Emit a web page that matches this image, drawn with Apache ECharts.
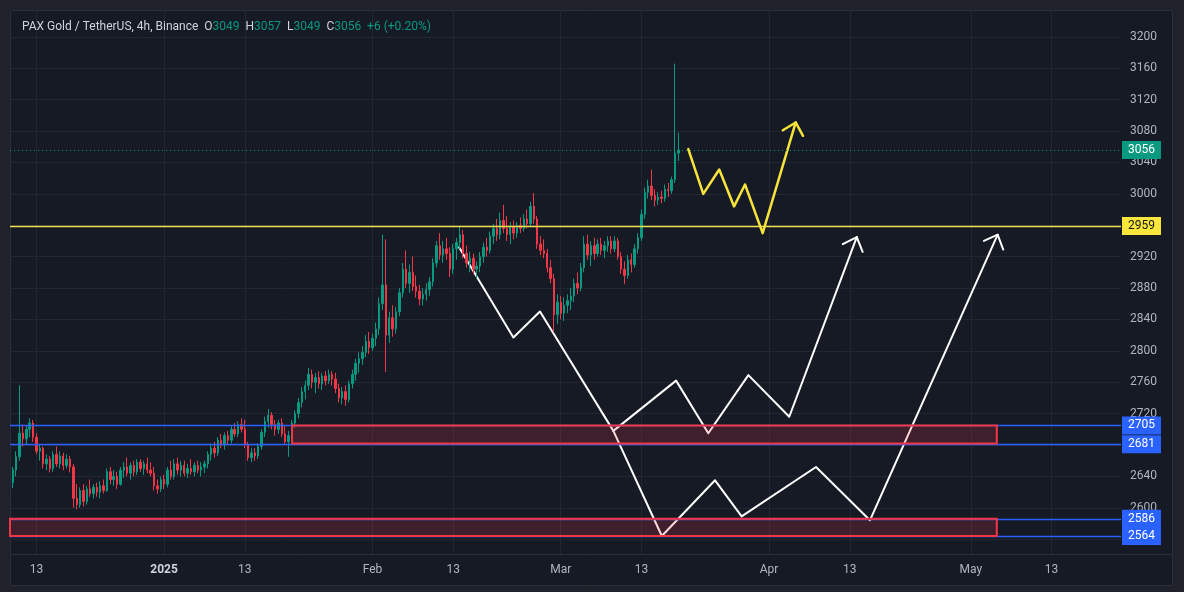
<!DOCTYPE html>
<html>
<head>
<meta charset="utf-8">
<title>PAX Gold / TetherUS</title>
<script src="https://cdn.jsdelivr.net/npm/echarts@6.0.0/dist/echarts.min.js"></script>
<style>
html,body{margin:0;padding:0;background:#1f222b;overflow:hidden;}
#chart{width:1184px;height:592px;}
</style>
</head>
<body>
<div id="chart"></div>
<script>
// ---------------- data ----------------
const symbolName = 'PAX Gold / TetherUS, 4h, Binance';
const lastBar = [3049, 3057, 3049, 3056];          // O H L C of the last 4h bar
const lastChange = '+6 (+0.20%)';

const firstCandleTime = '2024-12-09T12:00';          // 12h candles
const candleStepDays = 0.5;

const opens = [
2632,2648,2665,2695,2688,2700,2708,2690,2672,2676,
2656,2662,2650,2668,2656,2666,2654,2662,2652,2612,
2604,2622,2608,2624,2618,2626,2620,2628,2622,2646,
2636,2640,2630,2648,2652,2644,2654,2646,2658,2650,
2656,2648,2644,2628,2624,2636,2630,2648,2640,2656,
2648,2654,2644,2650,2646,2654,2648,2652,2656,2668,
2676,2670,2686,2680,2692,2686,2700,2694,2706,2700,
2680,2664,2670,2666,2678,2696,2710,2718,2706,2700,
2708,2694,2684,2692,2708,2720,2734,2748,2756,2770,
2760,2766,2758,2768,2762,2770,2764,2752,2740,2748,
2738,2758,2770,2784,2790,2798,2812,2804,2816,2828,
2860,2884,2820,2842,2828,2850,2874,2904,2886,2900,
2882,2876,2866,2872,2878,2888,2912,2934,2922,2930,
2924,2904,2930,2938,2948,2924,2912,2918,2904,2908,
2920,2932,2928,2946,2956,2948,2966,2956,2948,2958,
2950,2960,2956,2968,2962,2984,2968,2936,2928,2924,
2906,2892,2846,2862,2848,2858,2864,2870,2886,2880,
2906,2936,2922,2934,2924,2936,2928,2934,2940,2930,
2940,2920,2904,2896,2916,2910,2930,2944,2974,3002,
3010,2998,2992,2996,2994,3006,3004,3018,3052];

const highs = [
2652,2672,2756,2706,2705,2714,2712,2695,2680,2678,
2668,2666,2672,2678,2672,2670,2668,2666,2656,2630,
2626,2630,2628,2636,2630,2632,2634,2636,2650,2652,
2648,2646,2652,2658,2664,2658,2660,2662,2662,2660,
2664,2658,2652,2636,2640,2642,2652,2660,2662,2664,
2660,2660,2656,2662,2658,2660,2658,2660,2672,2682,
2684,2690,2694,2696,2698,2704,2708,2710,2714,2712,
2684,2676,2676,2682,2700,2716,2726,2722,2712,2712,
2714,2704,2698,2712,2724,2740,2754,2762,2778,2776,
2772,2774,2772,2774,2776,2774,2772,2758,2754,2756,
2762,2776,2790,2798,2806,2820,2824,2822,2836,2868,
2948,2942,2850,2858,2856,2880,2912,2928,2910,2920,
2896,2884,2880,2886,2894,2918,2940,2950,2940,2944,
2932,2936,2944,2959,2954,2934,2926,2924,2914,2926,
2938,2944,2952,2962,2968,2976,2986,2972,2964,2966,
2964,2970,2974,2980,2990,3001,2972,2946,2942,2930,
2916,2898,2872,2870,2868,2872,2880,2892,2900,2912,
2946,2948,2940,2944,2942,2944,2940,2946,2946,2946,
2944,2926,2914,2922,2924,2936,2950,2980,3008,3018,
3031,3006,3002,3004,3012,3014,3022,3166,3078];

const lows = [
2625,2640,2660,2678,2680,2690,2684,2668,2660,2650,
2648,2645,2646,2652,2650,2648,2650,2645,2600,2598,
2600,2602,2604,2614,2612,2614,2612,2618,2620,2630,
2628,2624,2628,2638,2640,2636,2640,2642,2646,2642,
2644,2640,2622,2618,2620,2624,2626,2636,2636,2642,
2640,2640,2638,2642,2640,2644,2640,2644,2650,2660,
2664,2666,2676,2674,2680,2682,2690,2690,2696,2676,
2660,2658,2660,2662,2674,2690,2702,2700,2692,2694,
2690,2680,2665,2688,2702,2714,2728,2738,2750,2752,
2746,2752,2750,2756,2758,2756,2746,2734,2732,2730,
2734,2752,2762,2772,2782,2792,2796,2800,2806,2820,
2852,2773,2810,2818,2822,2844,2868,2880,2874,2876,
2868,2858,2858,2864,2870,2882,2906,2916,2912,2916,
2894,2898,2916,2930,2918,2906,2900,2898,2892,2900,
2912,2920,2924,2936,2940,2942,2950,2940,2936,2942,
2944,2950,2952,2956,2958,2962,2930,2922,2918,2900,
2886,2824,2834,2840,2838,2848,2852,2862,2872,2876,
2900,2916,2908,2916,2920,2922,2918,2926,2924,2926,
2916,2898,2885,2892,2900,2906,2924,2940,2968,2994,
2992,2984,2986,2988,2990,2996,3000,3014,3042];

const closes = [
2648,2665,2695,2688,2700,2708,2690,2672,2676,2656,
2662,2650,2668,2656,2666,2654,2662,2652,2612,2604,
2622,2608,2624,2618,2626,2620,2628,2622,2646,2636,
2640,2630,2648,2652,2644,2654,2646,2658,2650,2656,
2648,2644,2628,2624,2636,2630,2648,2640,2656,2648,
2654,2644,2650,2646,2654,2648,2652,2656,2668,2676,
2670,2686,2680,2692,2686,2700,2694,2706,2700,2680,
2664,2670,2666,2678,2696,2710,2718,2706,2700,2708,
2694,2684,2692,2708,2720,2734,2748,2756,2770,2760,
2766,2758,2768,2762,2770,2764,2752,2740,2748,2738,
2758,2770,2784,2790,2798,2812,2804,2816,2828,2860,
2884,2820,2842,2828,2850,2874,2904,2886,2900,2882,
2876,2866,2872,2878,2888,2912,2934,2922,2930,2924,
2904,2930,2938,2948,2924,2912,2918,2904,2908,2920,
2932,2928,2946,2956,2948,2966,2956,2948,2958,2950,
2960,2956,2968,2962,2984,2968,2936,2928,2924,2906,
2892,2846,2862,2848,2858,2864,2870,2886,2880,2906,
2936,2922,2934,2924,2936,2928,2934,2940,2930,2940,
2920,2904,2896,2916,2910,2930,2944,2974,3002,3010,
2998,2992,2996,2994,3006,3004,3018,3052,3056];

// price scale
const priceMin = 2541.1;
const priceMax = 3234.3;
const priceGrid = [2560,2600,2640,2680,2720,2760,2800,2840,2880,2920,2960,3000,3040,3080,3120,3160,3200];
const priceLabels = [2600,2640,2720,2760,2800,2840,2880,2920,3000,3040,3080,3120,3160,3200];

// time scale
const timeMin = '2024-12-09T01:48';
const timeMax = '2025-05-23T08:24';
const dateTicks = ['2024-12-13','2025-01-01','2025-01-13','2025-02-01','2025-02-13','2025-03-01','2025-03-13','2025-04-01','2025-04-13','2025-05-01','2025-05-13'];
const dateTickLabels = ['13','2025','13','Feb','13','Mar','13','Apr','13','May','13'];

// horizontal levels
const lastPrice = 3056;
const levelYellow = 2959;
const levelsBlue = [2705, 2681, 2586, 2564];

// supply / demand zones [from, to, top, bottom]
const zoneUpper = ['2025-01-20T01:00', '2025-05-04T21:00', 2705, 2682];
const zoneLower = [timeMin, '2025-05-04T21:00', 2586, 2564];

// drawn projection paths [time, price]
const pathCommon = [['2025-02-13T21:00',2932],['2025-02-21T23:00',2817],['2025-02-25T22:00',2850],['2025-03-08T20:00',2698]];
const pathLow = [['2025-03-08T20:00',2698],['2025-03-16T01:00',2564],['2025-03-23T23:00',2635],['2025-03-27T22:00',2589],['2025-04-07T23:30',2652],['2025-04-16T00:00',2584],['2025-05-05T00:00',2948]];
const arrowLow = [['2025-05-02T23:00',2940],['2025-05-05T00:00',2948],['2025-05-05T20:00',2929]];
const pathHigh = [['2025-03-08T20:00',2698],['2025-03-18T04:00',2762],['2025-03-22T23:00',2695],['2025-03-28T22:00',2769],['2025-04-04T00:00',2716],['2025-04-14T01:00',2945]];
const arrowHigh = [['2025-04-11T23:00',2936],['2025-04-14T01:00',2945],['2025-04-14T22:00',2926]];
const pathYellow = [['2025-03-19T23:30',3057],['2025-03-22T05:00',3000],['2025-03-24T14:00',3031],['2025-03-26T19:00',2984],['2025-03-28T10:00',3012],['2025-03-31T01:00',2950],['2025-04-04T23:00',3091]];
const arrowYellow = [['2025-04-03T01:00',3081],['2025-04-04T23:00',3091],['2025-04-06T01:00',3074]];

// ---------------- helpers ----------------
const T0 = Date.UTC(2025, 0, 1);
function dayOf(s) {
  const iso = s.length <= 10 ? s + 'T00:00:00Z' : s + ':00Z';
  return (Date.parse(iso) - T0) / 864e5;
}
const pts = arr => arr.map(p => [dayOf(p[0]), p[1]]);

const FONT = 'Roboto, "Liberation Sans", sans-serif';
const TXT = '#b2b5be';
const GRIDC = '#232734';

const firstDay = dayOf(firstCandleTime);
const candleData = opens.map((o, i) => [firstDay + i * candleStepDays, o, closes[i], lows[i], highs[i]]);
const xTickDays = dateTicks.map(dayOf);

function boxLabel(bg, fg) {
  return {
    show: true, position: 'end', distance: 1,
    formatter: p => String(p.value),
    color: fg, backgroundColor: bg, padding: [3, 6, 2, 6],
    fontSize: 12, fontFamily: FONT, lineHeight: 13
  };
}
function lineSeries(data, color, width, z) {
  return {
    type: 'line', data: pts(data), symbol: 'none', silent: true, animation: false,
    lineStyle: { color: color, width: width, cap: 'round', join: 'round' },
    z: z, clip: false
  };
}

const titleText =
  '{n|' + symbolName + '}  ' +
  '{n|O}{v|' + lastBar[0] + '}  {n|H}{v|' + lastBar[1] + '}  {n|L}{v|' + lastBar[2] + '}  {n|C}{v|' + lastBar[3] + '}  {v|' + lastChange + '}';

const chart = echarts.init(document.getElementById('chart'), null, { renderer: 'canvas', width: 1184, height: 592 });

chart.setOption({
  animation: false,
  backgroundColor: '#1f222b',
  graphic: [
    { type: 'rect', silent: true, z: -10,
      shape: { x: 10.5, y: 10.5, width: 1162, height: 575 },
      style: { fill: '#161a25', stroke: '#2a2e39', lineWidth: 1 } },
    { type: 'line', silent: true, z: -9,
      shape: { x1: 10, y1: 554.5, x2: 1173, y2: 554.5 },
      style: { stroke: '#2a2e39', lineWidth: 1 } }
  ],
  title: {
    left: 17, top: 16,
    text: titleText,
    textStyle: {
      fontSize: 12, fontFamily: FONT, color: '#d1d4dc', fontWeight: 'normal',
      rich: {
        n: { color: '#d1d4dc', fontSize: 12, fontFamily: FONT },
        v: { color: '#089981', fontSize: 12, fontFamily: FONT }
      }
    }
  },
  grid: { left: 10, right: 63, top: 10, bottom: 38, containLabel: false },
  xAxis: {
    type: 'value',
    min: dayOf(timeMin), max: dayOf(timeMax),
    axisLine: { show: false },
    axisTick: { show: false, customValues: xTickDays },
    axisLabel: {
      customValues: xTickDays, margin: 10, color: TXT, fontSize: 12, fontFamily: FONT,
      formatter: v => {
        const i = xTickDays.findIndex(d => Math.abs(d - v) < 1e-6);
        const s = i >= 0 ? dateTickLabels[i] : '';
        return /^\d{4}$/.test(s) ? '{b|' + s + '}' : s;
      },
      rich: { b: { fontWeight: 'bold', color: '#d1d4dc', fontSize: 12, fontFamily: FONT } }
    },
    splitLine: { show: true, lineStyle: { color: GRIDC, width: 1 } }
  },
  yAxis: {
    type: 'value', position: 'right', scale: true,
    min: priceMin, max: priceMax,
    axisLine: { show: false },
    axisTick: { show: false, customValues: priceGrid },
    axisLabel: {
      customValues: priceLabels, margin: 9, color: TXT, fontSize: 12, fontFamily: FONT,
      formatter: v => String(Math.round(v))
    },
    splitLine: { show: true, lineStyle: { color: GRIDC, width: 1 } }
  },
  series: [
    {
      type: 'candlestick',
      data: candleData,
      barWidth: 1.9,
      z: 2,
      itemStyle: {
        color: '#089981', color0: '#f23645',
        borderColor: '#089981', borderColor0: '#f23645', borderWidth: 1
      },
      // blue support/resistance levels, drawn below the red zones
      markLine: {
        silent: true, animation: false, symbol: ['none', 'none'], z: 2.5,
        data: levelsBlue.map(v => ({
          yAxis: v, lineStyle: { color: '#2962ff', type: 'solid', width: 1.4 }, label: boxLabel('#2962ff', '#ffffff')
        }))
      },
      markArea: {
        silent: true, z: 3,
        itemStyle: { color: 'rgba(242,54,69,0.19)', borderColor: '#f23645', borderWidth: 2 },
        data: [
          [{ xAxis: dayOf(zoneUpper[0]), yAxis: zoneUpper[2] }, { xAxis: dayOf(zoneUpper[1]), yAxis: zoneUpper[3] }],
          [{ xAxis: dayOf(zoneLower[0]), yAxis: zoneLower[2] }, { xAxis: dayOf(zoneLower[1]), yAxis: zoneLower[3] }]
        ]
      }
    },
    lineSeries(pathCommon, '#ffffff', 2, 2),
    lineSeries(pathLow, '#ffffff', 2, 2),
    lineSeries(arrowLow, '#ffffff', 2, 2),
    lineSeries(pathHigh, '#ffffff', 2, 2),
    lineSeries(arrowHigh, '#ffffff', 2, 2),
    lineSeries(arrowYellow, '#f7e43a', 2.5, 4),
    Object.assign(lineSeries(pathYellow, '#f7e43a', 2.5, 4), {
      markLine: {
        silent: true, animation: false, symbol: ['none', 'none'], z: 5,
        data: [
          { yAxis: lastPrice, lineStyle: { color: '#089981', type: [1, 3], width: 1 }, label: boxLabel('#089981', '#ffffff') },
          { yAxis: levelYellow, lineStyle: { color: '#f2e04a', type: 'solid', width: 1.3 }, label: boxLabel('#fbe63b', '#131722') }
        ]
      }
    })
  ]
});
</script>
</body>
</html>
